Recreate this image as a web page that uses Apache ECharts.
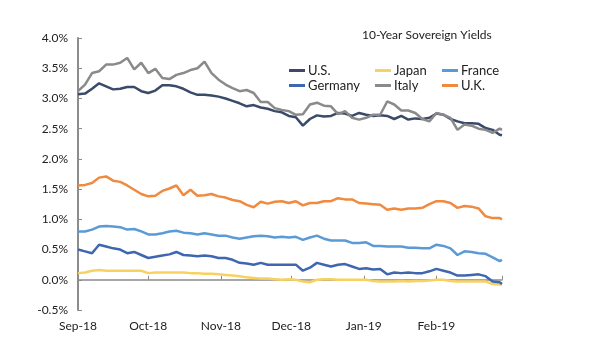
<!DOCTYPE html>
<html>
<head>
<meta charset="utf-8">
<script src="https://cdn.jsdelivr.net/npm/echarts@6/dist/echarts.min.js"></script>
<style>html,body{margin:0;padding:0;background:#fff;}#chart{width:600px;height:356px;}</style>
</head>
<body>
<div id="chart"></div>
<script>
const titleText = '10-Year Sovereign Yields';
const monthLabels = {'2018-09':'Sep-18','2018-10':'Oct-18','2018-11':'Nov-18','2018-12':'Dec-18','2019-01':'Jan-19','2019-02':'Feb-19'};
const dates = [
 '2018-09-01','2018-09-04','2018-09-07','2018-09-10','2018-09-13','2018-09-16','2018-09-19','2018-09-22','2018-09-25','2018-09-28',
 '2018-10-01','2018-10-04','2018-10-07','2018-10-10','2018-10-13','2018-10-16','2018-10-19','2018-10-22','2018-10-25','2018-10-28',
 '2018-10-31','2018-11-03','2018-11-06','2018-11-09','2018-11-12','2018-11-15','2018-11-18','2018-11-21','2018-11-24','2018-11-27',
 '2018-11-30','2018-12-03','2018-12-06','2018-12-09','2018-12-12','2018-12-15','2018-12-18','2018-12-21','2018-12-24','2018-12-27',
 '2018-12-30','2019-01-02','2019-01-05','2019-01-08','2019-01-11','2019-01-14','2019-01-17','2019-01-20','2019-01-23','2019-01-26',
 '2019-01-29','2019-02-01','2019-02-04','2019-02-07','2019-02-10','2019-02-13','2019-02-16','2019-02-19','2019-02-22','2019-02-25',
 '2019-02-28','2019-03-01'
];
const us = [3.07,3.08,3.16,3.25,3.20,3.15,3.16,3.19,3.19,3.12, 3.09,3.13,3.22,3.22,3.20,3.16,3.10,3.06,3.06,3.05, 3.03,3.00,2.96,2.92,2.87,2.89,2.85,2.83,2.79,2.77, 2.71,2.69,2.55,2.66,2.72,2.70,2.71,2.76,2.75,2.71, 2.76,2.73,2.71,2.72,2.71,2.66,2.71,2.65,2.67,2.66, 2.68,2.75,2.73,2.66,2.62,2.59,2.59,2.58,2.51,2.48, 2.40,2.39];
const italy = [3.12,3.23,3.42,3.45,3.56,3.56,3.59,3.67,3.48,3.59, 3.42,3.49,3.34,3.32,3.39,3.42,3.47,3.50,3.61,3.42, 3.31,3.23,3.17,3.12,3.14,3.09,2.94,2.94,2.84,2.81, 2.79,2.73,2.74,2.90,2.93,2.88,2.87,2.74,2.79,2.68, 2.65,2.68,2.73,2.73,2.95,2.90,2.80,2.80,2.76,2.66, 2.62,2.76,2.73,2.68,2.48,2.57,2.55,2.50,2.48,2.43, 2.50,2.48];
const uk = [1.56,1.57,1.60,1.69,1.71,1.64,1.62,1.56,1.49,1.42, 1.38,1.39,1.47,1.51,1.56,1.40,1.49,1.39,1.40,1.42, 1.38,1.36,1.32,1.30,1.24,1.20,1.29,1.26,1.29,1.30, 1.27,1.30,1.23,1.27,1.27,1.30,1.30,1.35,1.33,1.33, 1.27,1.26,1.25,1.24,1.16,1.18,1.16,1.18,1.18,1.19, 1.25,1.30,1.30,1.27,1.19,1.22,1.21,1.18,1.05,1.02, 1.02,1.00];
const france = [0.80,0.80,0.83,0.88,0.89,0.88,0.87,0.83,0.84,0.80, 0.75,0.75,0.77,0.80,0.81,0.78,0.77,0.75,0.77,0.75, 0.73,0.73,0.70,0.68,0.70,0.72,0.73,0.72,0.70,0.71, 0.70,0.71,0.66,0.70,0.73,0.68,0.65,0.65,0.65,0.61, 0.61,0.62,0.56,0.56,0.55,0.55,0.55,0.53,0.53,0.52, 0.52,0.58,0.56,0.52,0.41,0.47,0.46,0.44,0.43,0.37, 0.31,0.33];
const germany = [0.50,0.47,0.44,0.58,0.55,0.52,0.50,0.44,0.46,0.41, 0.36,0.38,0.40,0.42,0.46,0.41,0.40,0.39,0.40,0.39, 0.36,0.36,0.33,0.28,0.27,0.25,0.28,0.25,0.25,0.25, 0.25,0.25,0.15,0.20,0.28,0.25,0.22,0.25,0.26,0.22, 0.18,0.19,0.17,0.18,0.09,0.12,0.11,0.12,0.11,0.11, 0.14,0.18,0.15,0.12,0.07,0.07,0.08,0.09,0.06,-0.03, -0.04,-0.07];
const japan = [0.11,0.12,0.15,0.16,0.15,0.15,0.15,0.15,0.15,0.15, 0.11,0.12,0.12,0.12,0.12,0.12,0.11,0.11,0.10,0.10, 0.09,0.08,0.07,0.06,0.04,0.03,0.02,0.02,0.01,0.00, 0.01,0.00,-0.03,-0.04,0.00,0.01,0.01,0.00,0.00,0.00, 0.00,0.00,-0.02,-0.03,-0.03,-0.03,-0.02,-0.03,-0.02,-0.02, -0.01,0.00,0.00,-0.02,-0.03,-0.03,-0.03,-0.03,-0.03,-0.07, -0.08,-0.08];

const seriesDefs = [
  {name:'U.S.', values: us, color:'#3a4a68'},
  {name:'Japan', values: japan, color:'#f8d261'},
  {name:'France', values: france, color:'#5a9ad6'},
  {name:'Germany', values: germany, color:'#3f66b0'},
  {name:'Italy', values: italy, color:'#8a8a8a'},
  {name:'U.K.', values: uk, color:'#ef8a3e'}
];

const FONT = 'Lato';
const chart = echarts.init(document.getElementById('chart'), null, {renderer:'canvas'});
const legendBase = {
  orient:'vertical', top:63, padding:0, itemGap:0, icon:'rect', itemWidth:16, itemHeight:3,
  textStyle:{fontFamily:FONT, fontSize:13, color:'#222', lineHeight:15, padding:[0,0,0,-2]}
};
chart.setOption({
  animation:false,
  backgroundColor:'#fff',
  title:{text:titleText, left:362, top:29, padding:0, textStyle:{fontFamily:FONT, fontSize:12, fontWeight:'normal', color:'#222'}},
  legend:[
    Object.assign({left:289, data:['U.S.','Germany']}, legendBase),
    Object.assign({left:375, data:['Japan','Italy']}, legendBase),
    Object.assign({left:442, data:['France','U.K.']}, legendBase)
  ],
  grid:{left:78, right:98, top:38, bottom:46, containLabel:false, outerBoundsMode:'none'},
  xAxis:{
    type:'time', min:'2018-09-01', max:'2019-03-01',
    minInterval: 28*86400000, maxInterval: 31*86400000,
    axisLine:{onZero:true, lineStyle:{color:'#8c8c8c', width:1.5}},
    axisTick:{show:true, inside:true, length:4, lineStyle:{color:'#8c8c8c'}},
    splitLine:{show:false},
    axisLabel:{
      margin:10, fontFamily:FONT, fontSize:12, color:'#222', hideOverlap:false,
      showMinLabel:true, showMaxLabel:false,
      formatter:function(v){
        const d = new Date(v);
        const key = d.getFullYear() + '-' + String(d.getMonth()+1).padStart(2,'0');
        return d.getDate() === 1 && monthLabels[key] ? monthLabels[key] : '';
      }
    }
  },
  yAxis:{
    type:'value', min:-0.5, max:4, interval:0.5,
    axisLine:{show:true, onZero:false, lineStyle:{color:'#8c8c8c', width:2}},
    axisTick:{show:true, inside:true, length:4, lineStyle:{color:'#8c8c8c'}},
    splitLine:{show:false},
    axisLabel:{margin:10, fontFamily:FONT, fontSize:12, color:'#222', formatter:function(v){return v.toFixed(1)+'%';}}
  },
  series: seriesDefs.map(s => ({
    name:s.name, type:'line', showSymbol:false, symbol:'none',
    lineStyle:{color:s.color, width:2.5}, itemStyle:{color:s.color},
    data: dates.map((d,i)=>[d, s.values[i]])
  }))
});
</script>
</body>
</html>
